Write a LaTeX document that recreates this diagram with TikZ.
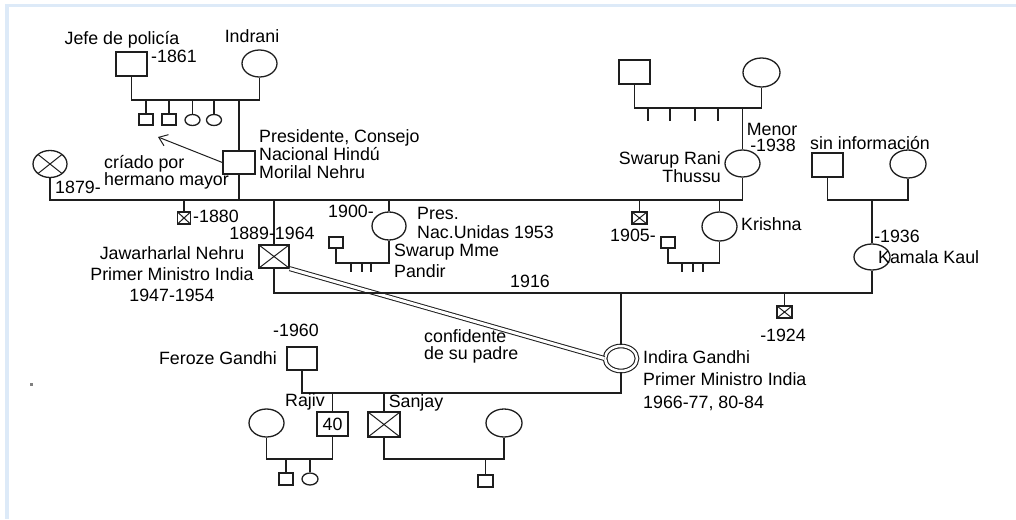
\documentclass[tikz,border=0pt]{standalone}
\usepackage{fontspec}
\setmainfont{Liberation Sans}
\usetikzlibrary{shapes.geometric,arrows.meta}
\definecolor{framec}{HTML}{DDEAF8}
\definecolor{inkc}{HTML}{1E1E1E}
\begin{document}
\begin{tikzpicture}[x=1pt,y=-1pt,
  ln/.style={line width=1.6pt, draw=inkc},
  sh/.style={draw=inkc, line width=1.3pt, inner sep=0pt, fill=white},
  male/.style={sh, rectangle, minimum width=31pt, minimum height=24pt},
  female/.style={sh, ellipse, minimum width=35pt, minimum height=27pt},
  smale/.style={sh, rectangle, minimum width=14pt, minimum height=11pt},
  sfemale/.style={sh, ellipse, minimum width=15pt, minimum height=11pt},
  crossed/.style={path picture={\draw[line width=1pt, inkc]
     (path picture bounding box.north west) -- (path picture bounding box.south east)
     (path picture bounding box.north east) -- (path picture bounding box.south west);}},
  lbl/.style={font=\fontsize{17.8}{21}\selectfont, inner sep=0pt, text=black},
]
\useasboundingbox (0,0) rectangle (1016,519);
\fill[framec] (8,4) rectangle (1016,7);
\fill[framec] (5,4) rectangle (9,519);
\fill[gray] (30,383) rectangle (33,385.5);

% ---- people ----
\node[male] (jefe) at (131.5,64) {};
\node[female] (indrani) at (259.5,63.5) {};
\node[smale] (s1) at (146,119.5) {};
\node[smale] (s2) at (169,119.5) {};
\node[sfemale] (s3) at (192.5,120) {};
\node[sfemale] (s4) at (214,120) {};
\node[male, minimum width=32pt, minimum height=23pt] (motilal) at (239,162.5) {};
\node[female, crossed, minimum width=34pt, minimum height=27pt] (wife1) at (50,164) {};
\node[smale, crossed, minimum width=13pt, minimum height=12pt] (d1) at (184,218) {};
\node[male, crossed, minimum width=30pt, minimum height=23pt] (jawa) at (274,256.5) {};
\node[female, minimum width=34pt, minimum height=28pt] (swm) at (389,226) {};
\node[smale] (swmh) at (336,242.5) {};
\node[smale, crossed, minimum width=15pt, minimum height=12pt] (d2) at (639.5,218) {};
\node[female, minimum height=29pt] (krishna) at (719.5,226.5) {};
\node[smale] (krh) at (668,242.5) {};
\node[male] (trsq) at (634.5,72) {};
\node[female, minimum width=37pt, minimum height=29pt] (trci) at (761.5,72.5) {};
\node[female] (srani) at (742.5,163.5) {};
\node[male] (sisq) at (827.5,165) {};
\node[female, minimum width=36pt, minimum height=28pt] (sici) at (908,164) {};
\node[female, minimum width=36pt, minimum height=26pt] (kamala) at (872,257) {};
\node[smale, crossed, minimum width=15pt, minimum height=12pt] (d3) at (784.5,312) {};
\node[female, double, double distance=2.5pt, line width=1.1pt, minimum width=32pt, minimum height=25pt] (indira) at (621,358.5) {};
\node[male, minimum width=30pt, minimum height=23pt] (feroze) at (302,358.5) {};
\node[male, lbl] (rajiv) at (332.5,424) {40};
\node[male, crossed, minimum width=32pt, minimum height=25pt] (sanjay) at (384,424.5) {};
\node[female, minimum height=28pt] (rwife) at (266.5,423) {};
\node[smale, minimum height=12pt] (rc1) at (286,479) {};
\node[sfemale, minimum width=16pt, minimum height=12pt] (rc2) at (310,479) {};
\node[female, minimum width=36pt, minimum height=28pt] (swife) at (504,423) {};
\node[smale, minimum width=15pt, minimum height=12pt] (sc1) at (485.5,481) {};

% ---- junction coordinates ----
\coordinate (b1) at (200,100);
\coordinate (b2) at (400,200);
\coordinate (b3) at (872,293);
\coordinate (b4) at (450,393);
\coordinate (b5) at (360,263);
\coordinate (b6) at (690,263);
\coordinate (b7) at (700,108);
\coordinate (b8) at (870,200);
\coordinate (b9) at (300,459);
\coordinate (b10) at (450,459);
\coordinate (tip) at (158,137);

% ---- connectors ----
\draw[draw=inkc, line width=1pt, double=white, double distance=3pt] (jawa.south east) -- (indira.west);
\draw[ln] (jefe.south) |- (b1) -| (indrani.south);
\foreach \n in {s1,s2,s3,s4} \draw[ln] (\n.north) -- (\n.north |- b1);
\draw[ln] (motilal.north) -- (motilal.north |- b1);
\draw[ln] (wife1.south) |- (b2) -| (srani.south);
\draw[ln] (motilal.south) -- (motilal.south |- b2);
\foreach \n in {d1,jawa,swm,d2,krishna} \draw[ln] (\n.north) -- (\n.north |- b2);
\draw[ln] (swmh.south) |- (b5) -| (swm.south);
\foreach \x in {351,362,371} \draw[ln] (\x,263) -- (\x,272);
\draw[ln] (krh.south) |- (b6) -| (krishna.south);
\foreach \x in {682,693,703} \draw[ln] (\x,263) -- (\x,272);
\draw[ln] (trsq.south) |- (b7) -| (trci.south);
\foreach \x in {648,670,695,718} \draw[ln] (\x,108) -- (\x,121);
\draw[ln] (srani.north) -- (srani.north |- b7);
\draw[ln] (sisq.south) |- (b8) -| (sici.south);
\draw[ln] (kamala.north) -- (kamala.north |- b8);
\draw[ln] (jawa.south) |- (b3) -- (kamala.south);
\draw[ln] (d3.north) -- (d3.north |- b3);
\draw[ln] (indira.north) -- (indira.north |- b3);
\draw[ln] (feroze.south) |- (b4) -| (indira.south);
\draw[ln] (rajiv.north) -- (rajiv.north |- b4);
\draw[ln] (sanjay.north) -- (sanjay.north |- b4);
\draw[ln] (rwife.south) |- (b9) -| (rajiv.south);
\draw[ln] (rc1.north) -- (rc1.north |- b9);
\draw[ln] (rc2.north) -- (rc2.north |- b9);
\draw[ln] (sanjay.south) |- (b10) -| (swife.south);
\draw[ln] (sc1.north) -- (sc1.north |- b10);
\draw[draw=inkc, line width=1pt, -{Straight Barb[length=8pt,width=12pt]}] (motilal.west) -- (tip);

% ---- labels ----
\node[lbl] (tJefe) at (122,40) {Jefe de policía};
\node[lbl] (tInd) at (252,36) {Indrani};
\node[lbl] (t1861) at (174,56) {-1861};
\node[lbl, anchor=west, align=left, font=\fontsize{17.8}{18}\selectfont] (tPres) at (259,154) {Presidente, Consejo\\Nacional Hindú\\Morilal Nehru};
\node[lbl, anchor=west, align=left, font=\fontsize{17.8}{17}\selectfont] (tCri) at (104,172.5) {críado por\\hermano mayor};
\node[lbl] (t1879) at (78,187) {1879-};
\node[lbl] (t1880) at (216,216) {-1880};
\node[lbl] (t1889) at (272,233) {1889-1964};
\node[lbl, align=center, font=\fontsize{17.8}{21}\selectfont] (tJawa) at (172,274) {Jawarharlal Nehru\\Primer Ministro India\\1947-1954};
\node[lbl] (t1900) at (351,211) {1900-};
\node[lbl, anchor=west, align=left, font=\fontsize{17.8}{19}\selectfont] (tNac) at (417,222.5) {Pres.\\Nac.Unidas 1953};
\node[lbl, anchor=west, align=left, font=\fontsize{17.8}{21}\selectfont] (tSwm) at (394,260.5) {Swarup Mme\\Pandir};
\node[lbl] (t1905) at (633,235) {1905-};
\node[lbl, anchor=west] (tKri) at (741,224) {Krishna};
\node[lbl] (tMen) at (772,129) {Menor};
\node[lbl] (t1938) at (773,145) {-1938};
\node[lbl, anchor=east, align=right, font=\fontsize{17.8}{14}\selectfont] (tSr) at (721,167) {Swarup Rani\\Thussu};
\node[lbl] (tSin) at (870,143) {sin información};
\node[lbl] (t1936) at (897,236) {-1936};
\node[lbl, anchor=west] (tKam) at (878,257) {Kamala Kaul};
\node[lbl] (t1916) at (530,281) {1916};
\node[lbl] (t1924) at (783,335) {-1924};
\node[lbl] (t1960) at (296,330) {-1960};
\node[lbl, anchor=east] (tFer) at (277,358) {Feroze Gandhi};
\node[lbl, anchor=west, align=left, font=\fontsize{17.8}{17}\selectfont] (tConf) at (424,346.5) {confidente\\de su padre};
\node[lbl, anchor=west, align=left, font=\fontsize{17.8}{22.5}\selectfont] (tInd2) at (643,380.5) {Indira Gandhi\\Primer Ministro India\\1966-77, 80-84};
\node[lbl] (tRaj) at (305,402) {Rajiv};
\node[lbl] (tSan) at (416,403) {Sanjay};
\end{tikzpicture}
\end{document}
